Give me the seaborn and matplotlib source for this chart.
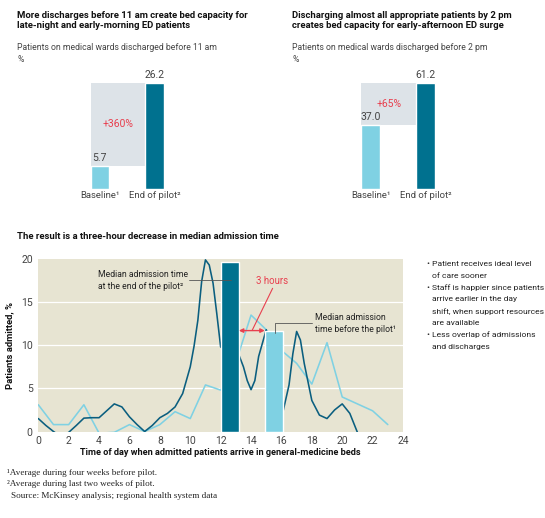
import numpy as np
import matplotlib
matplotlib.use("Agg")
import matplotlib.pyplot as plt
import seaborn as sns

# -- Data --
bar_labels = ["Baseline\u00b9", "End of pilot\u00b2"]
before_11am = [5.7, 26.2]
before_2pm = [37.0, 61.2]
change_11am = "+360%"
change_2pm = "+65%"

# admissions by hour of day, % of patients
pilot_hours = [0, 0.5, 1, 1.5, 2, 2.5, 3, 3.5, 4, 4.5, 5, 5.5, 6, 6.5, 7, 7.5,
               8, 8.5, 9, 9.5, 10, 10.25, 10.5, 10.75, 11, 11.25, 11.5, 11.75,
               12, 12.5, 13, 13.5, 13.75, 14, 14.25, 14.5, 15, 15.5, 16, 16.5,
               16.75, 17, 17.25, 17.5, 18, 18.5, 19, 19.5, 20, 20.5, 21]
pilot_share = [1.5, 0.7, 0.0, -0.6, -0.1, 0.7, 1.55, 1.6, 1.6, 2.4, 3.2, 2.85,
               1.7, 0.8, 0.0, 0.7, 1.6, 2.1, 2.85, 4.4, 7.5, 9.9, 12.9, 17.4,
               19.9, 19.3, 17.2, 13.6, 9.8, 9.2, 9.8, 7.5, 5.9, 4.85, 5.9, 8.7,
               11.8, 7.0, 1.5, 5.4, 9.0, 11.6, 10.6, 7.9, 3.6, 1.9, 1.5, 2.5,
               3.2, 2.1, -0.1]
baseline_hours = list(range(24))
baseline_share = [3.1, 0.8, 0.8, 3.1, -0.2, -0.1, 0.8, 0.0, 0.8, 2.3, 1.5, 5.4,
                  4.8, 8.0, 13.5, 11.8, 9.4, 7.9, 5.5, 10.3, 4.0, 3.2, 2.4, 0.8]

# median admission time (bar centre, hour) and bar height
median_pilot = 12.6
median_baseline = 15.5
median_pilot_height = 19.7
median_baseline_height = 11.7

bullets = [
    "Patient receives ideal level\nof care sooner",
    "Staff is happier since patients\narrive earlier in the day\nshift, when support resources\nare available",
    "Less overlap of admissions\nand discharges",
]

LIGHT = "#7fd1e3"
DARK = "#00718f"
DARK_LINE = "#0a5e7f"
SHADE = "#dde3e8"
BEIGE = "#e7e4d2"
RED = "#e8404f"
GREY_TXT = "#444444"

sns.set_theme(style="white")
plt.rcParams["font.family"] = ["Roboto", "DejaVu Sans"]

W, H = 545, 518
fig = plt.figure(figsize=(W / 100, H / 100), dpi=100)


def px_rect(left, top, right, bottom):
    return [left / W, 1 - bottom / H, (right - left) / W, (bottom - top) / H]


def ftext(x, y, s, **kw):
    kw.setdefault("va", "center")
    fig.text(x / W, 1 - y / H, s, **kw)


def top_panel(rect, values, change, title, subtitle, tx):
    ax = fig.add_axes(rect)
    sns.barplot(x=bar_labels, y=values, hue=bar_labels, palette=[LIGHT, DARK],
                width=0.34, legend=False, ax=ax, saturation=1)
    half = 0.17
    ax.fill_between([0 - half, 1 - half], values[0], values[1],
                    color=SHADE, lw=0, zorder=0)
    for i, v in enumerate(values):
        ax.annotate(f"{v:.1f}", (i, v), xytext=(0, 2), textcoords="offset points",
                    ha="center", va="bottom", fontsize=7.5, color=GREY_TXT)
    ax.text(0.33, (values[0] + values[1]) / 2, change, color=RED,
            ha="center", va="center", fontsize=7.5)
    ax.set_xlim(-0.5, 1.5)
    ax.set_ylim(0, values[1] * 1.12)
    ax.set_yticks([])
    ax.tick_params(axis="x", length=0, pad=1.5, labelsize=6.8, colors=GREY_TXT)
    sns.despine(ax=ax, left=True, bottom=True)
    ax.set_facecolor("none")

    ftext(tx, 15, title[0], fontsize=6.8, fontweight="bold", color="#111111")
    ftext(tx, 25.7, title[1], fontsize=6.8, fontweight="bold", color="#111111")
    ftext(tx, 48, subtitle, fontsize=6.2, color=GREY_TXT)
    ftext(tx, 60, "%", fontsize=6.2, color=GREY_TXT)


top_panel(px_rect(72.5, 70, 181.9, 189), before_11am, change_11am,
          ["More discharges before 11 am create bed capacity for",
           "late-night and early-morning ED patients"],
          "Patients on medical wards discharged before 11 am", 17)
top_panel(px_rect(343.3, 70, 453.3, 189), before_2pm, change_2pm,
          ["Discharging almost all appropriate patients by 2 pm",
           "creates bed capacity for early-afternoon ED surge"],
          "Patients on medical wards discharged before 2 pm", 292.5)

# -- Admission-time chart --
ftext(17, 236.7, "The result is a three-hour decrease in median admission time",
      fontsize=6.8, fontweight="bold", color="#111111")

ax = fig.add_axes(px_rect(38.3, 259, 403, 431.5))
ax.set_facecolor(BEIGE)
for yv in [5, 10, 15]:
    ax.axhline(yv, color="white", lw=0.9, zorder=0.5)

sns.lineplot(x=baseline_hours, y=baseline_share, color=LIGHT, lw=1.15, ax=ax, zorder=2)
sns.lineplot(x=pilot_hours, y=pilot_share, color=DARK_LINE, lw=1.15, ax=ax, zorder=2)

ax.bar([median_pilot], [median_pilot_height], width=1.2, color=DARK, zorder=3)
ax.bar([median_baseline], [median_baseline_height], width=1.2, color=LIGHT, zorder=3)

# annotations
ax.text(3.9, 17.55, "Median admission time\nat the end of the pilot\u00b2",
        ha="left", va="center", fontsize=6.2, color="#222222", linespacing=1.45)
ax.plot([9.9, 12.7], [17.6, 17.6], color="#555555", lw=0.6, zorder=4)

ax.text(18.2, 12.55, "Median admission\ntime before the pilot\u00b9",
        ha="left", va="center", fontsize=6.2, color="#222222", linespacing=1.45)
ax.plot([18.0, 15.6, 15.6], [12.6, 12.6, 11.4], color="#555555", lw=0.6, zorder=4)

ax.text(15.4, 17.4, "3 hours", color=RED, ha="center", va="center", fontsize=7)
ax.plot([15.42, 14.08], [16.6, 11.75], color=RED, lw=0.8, zorder=4)
ax.annotate("", xy=(median_pilot + 0.6, 11.7), xytext=(median_baseline - 0.6, 11.7),
            arrowprops=dict(arrowstyle="<|-|>", color=RED, lw=1.0,
                            shrinkA=0, shrinkB=0, mutation_scale=6), zorder=5)

ax.set_xlim(0, 24)
ax.set_ylim(0, 20)
ax.set_xticks(range(0, 25, 2))
ax.set_yticks([0, 5, 10, 15, 20])
ax.tick_params(length=0, labelsize=7.5, colors=GREY_TXT)
ax.tick_params(axis="y", pad=4)
ax.tick_params(axis="x", pad=3)
sns.despine(ax=ax, left=True, bottom=True, top=True, right=True)
ax.set_xlabel("Time of day when admitted patients arrive in general-medicine beds",
              fontsize=6.6, fontweight="bold", color="#111111", labelpad=2)
ax.set_ylabel("Patients admitted, %", fontsize=6.8, fontweight="bold",
              color="#111111", labelpad=5)

# bullet list
y = 264
for item in bullets:
    lines = item.split("\n")
    ftext(426.7, y, "\u2022", fontsize=6.1, color="#222222")
    for ln in lines:
        ftext(431.7, y, ln, fontsize=6.1, color="#222222")
        y += 11.8

# footnotes
serif = ["Liberation Serif", "DejaVu Serif"]
ftext(7, 473.3, "\u00b9Average during four weeks before pilot.", fontsize=6.6,
      family=serif, color="#222222")
ftext(7, 483.5, "\u00b2Average during last two weeks of pilot.", fontsize=6.6,
      family=serif, color="#222222")
ftext(11, 496, "Source: McKinsey analysis; regional health system data", fontsize=6.6,
      family=serif, color="#222222")

fig.savefig("out.png", dpi=100)
